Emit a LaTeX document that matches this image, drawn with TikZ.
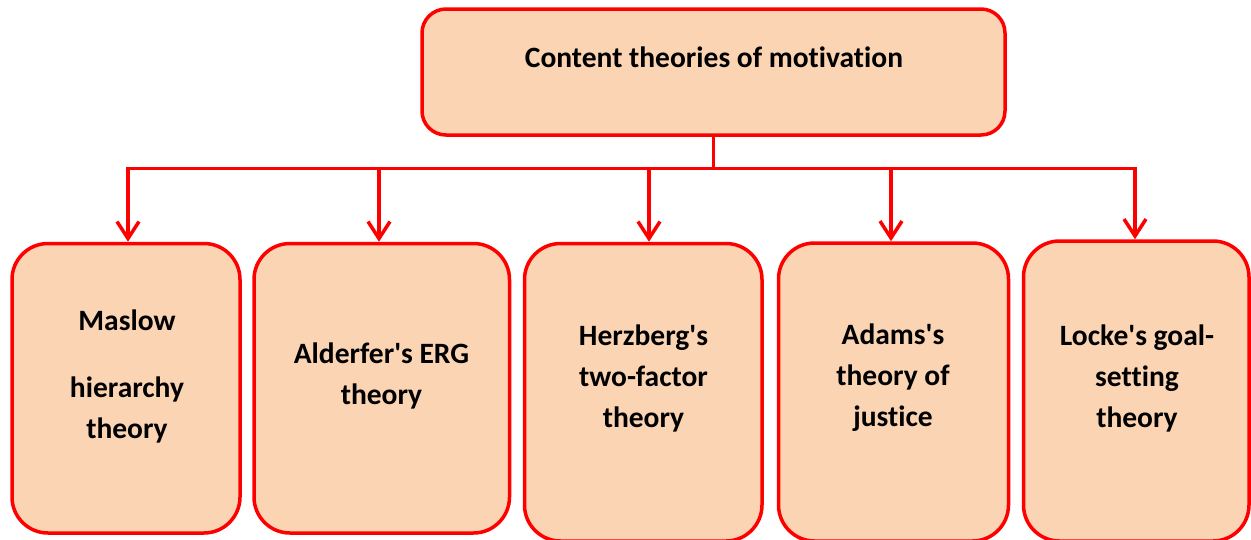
\documentclass[tikz,border=0pt]{standalone}
\usepackage{fontspec}
\setmainfont{Carlito}[Ligatures={TeXOff,NoCommon}]
\usetikzlibrary{arrows.meta}
\definecolor{boxfill}{HTML}{FBD4B4}
\definecolor{boxline}{HTML}{FF0000}
\begin{document}
\begin{tikzpicture}[x=1pt,y=-1pt,
  box/.style={draw=boxline, fill=boxfill, line width=3.5pt, rounded corners=36pt, inner sep=0pt},
  topbox/.style={box, rounded corners=24pt},
  lbl/.style={font=\fontsize{29.5}{41}\selectfont\bfseries, align=center, inner sep=0pt},
  conn/.style={draw=boxline, line width=3.5pt},
  arr/.style={conn, -{Straight Barb[length=17pt,width=22pt]}}]
\useasboundingbox (0,0) rectangle (1251,539);
\begin{scope}
\clip (0,0) rectangle (1251,539);
\node[topbox, minimum width=583pt, minimum height=126pt] (top) at (713.5,72) {};
\node[box, minimum width=228pt, minimum height=289.5pt] (b1) at (126,388.25) {};
\node[box, minimum width=255.5pt, minimum height=289.5pt] (b2) at (381.75,388.25) {};
\node[box, minimum width=237.5pt, minimum height=297.5pt] (b3) at (643.25,392.25) {};
\node[box, minimum width=230pt, minimum height=298pt] (b4) at (893.5,392) {};
\node[box, minimum width=225.5pt, minimum height=300pt] (b5) at (1136.25,391) {};
\end{scope}

\node[lbl] (t0) at (714,57) {Content theories of motivation};
\node[lbl] (t1) at (127,376) {Maslow\\[26pt]hierarchy\\theory};
\node[lbl] (t2) at (381.5,376) {Alderfer's ERG\\theory};
\node[lbl] (t3) at (643.5,378) {Herzberg's\\two-factor\\theory};
\node[lbl] (t4) at (893,378) {Adams's\\theory of\\justice};
\node[lbl] (t5) at (1137,378) {Locke's goal-\\setting\\theory};

\coordinate (j1) at (128,168.5);
\coordinate (j2) at (379,168.5);
\coordinate (j3) at (649,168.5);
\coordinate (j4) at (891,168.5);
\coordinate (j5) at (1135,168.5);

\draw[conn] (top.south) -- (top.south |- j1);
\draw[conn, line cap=rect] (j1) -- (j5);
\draw[arr] (j1) -- (j1 |- b1.north);
\draw[arr] (j2) -- (j2 |- b2.north);
\draw[arr] (j3) -- (j3 |- b3.north);
\draw[arr] (j4) -- (j4 |- b4.north);
\draw[arr] (j5) -- (j5 |- b5.north);
\end{tikzpicture}
\end{document}
